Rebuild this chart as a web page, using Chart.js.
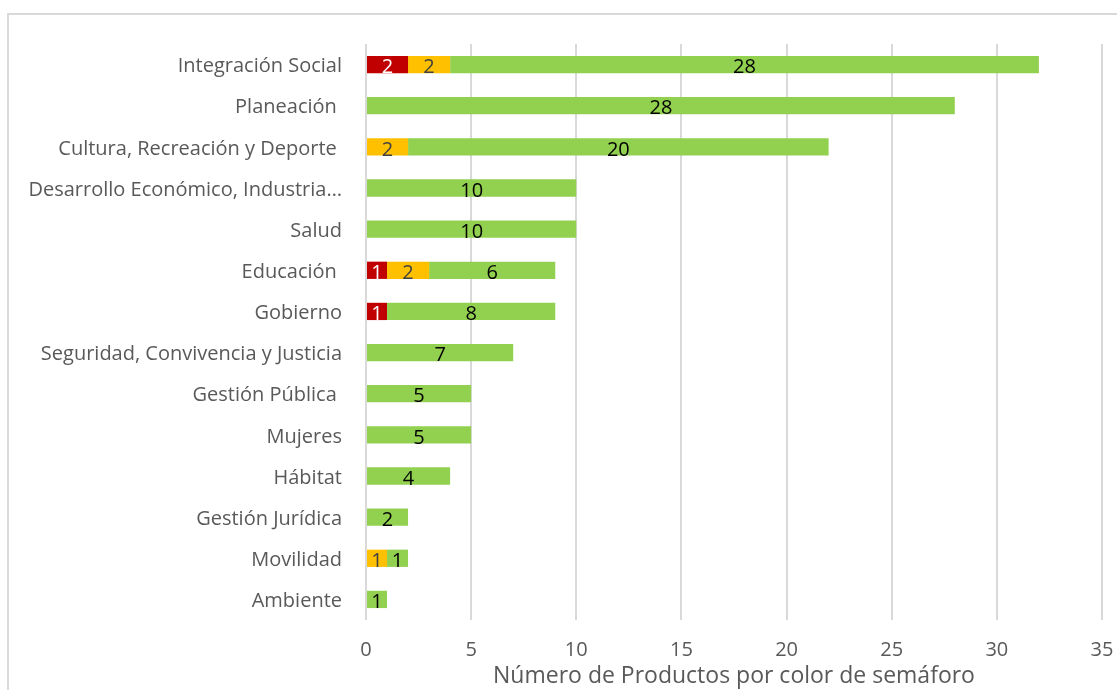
<!DOCTYPE html>
<html>
<head>
<meta charset="utf-8">
<script src="https://cdn.jsdelivr.net/npm/chart.js@4.4.1/dist/chart.umd.min.js"></script>
<style>
    html, body { margin: 0; padding: 0; background: #fff; overflow: hidden; }
    #wrap { position: relative; width: 1117px; height: 690px; }
    #frame {
        position: absolute; left: 7px; top: 13px; right: -10px; bottom: -10px;
        border-left: 2px solid #d9d9d9; border-top: 2px solid #d9d9d9;
    }
    canvas { position: absolute; left: 0; top: 0; }
</style>
</head>
<body>
<div id="wrap">
    <div id="frame"></div>
    <canvas id="chart" width="1117" height="690"></canvas>
</div>
<script>
// Data
const categories = [
    "Integración Social", "Planeación ", "Cultura, Recreación y Deporte ",
    "Desarrollo Económico, Industria…", "Salud", "Educación ", "Gobierno",
    "Seguridad, Convivencia y Justicia", "Gestión Pública ", "Mujeres",
    "Hábitat", "Gestión Jurídica", "Movilidad", "Ambiente"
];
const rojo     = [2, 0, 0, 0, 0, 1, 1, 0, 0, 0, 0, 0, 0, 0];
const amarillo = [2, 0, 2, 0, 0, 2, 0, 0, 0, 0, 0, 0, 1, 0];
const verde    = [28, 28, 20, 10, 10, 6, 8, 7, 5, 5, 4, 2, 1, 1];
const xTicks = [0, 5, 10, 15, 20, 25, 30, 35];

const FONT = "'Open Sans', Lato, sans-serif";

// simple value labels centered in each segment
const segmentLabels = {
    id: 'segmentLabels',
    afterDatasetsDraw(chart) {
        const ctx = chart.ctx;
        ctx.save();
        ctx.font = "20px " + FONT;
        ctx.textAlign = 'center';
        ctx.textBaseline = 'middle';
        chart.data.datasets.forEach((ds, i) => {
            const meta = chart.getDatasetMeta(i);
            meta.data.forEach((bar, j) => {
                const v = ds.data[j];
                if (!v) return;
                const c = bar.getCenterPoint();
                ctx.fillStyle = ds.labelColor;
                ctx.fillText(String(v), c.x, c.y + 3);
            });
        });
        ctx.restore();
    }
};

new Chart(document.getElementById('chart'), {
    type: 'bar',
    data: {
        labels: categories,
        datasets: [
            { label: 'Rojo', data: rojo, backgroundColor: '#c00000', labelColor: '#ffffff' },
            { label: 'Amarillo', data: amarillo, backgroundColor: '#ffc000', labelColor: '#404040' },
            { label: 'Verde', data: verde, backgroundColor: '#92d050', labelColor: '#000000' }
        ]
    },
    options: {
        indexAxis: 'y',
        responsive: false,
        animation: false,
        devicePixelRatio: 1,
        barPercentage: 0.42,
        categoryPercentage: 1,
        layout: { padding: { left: 0, right: 15, top: 44, bottom: 0 } },
        plugins: {
            legend: { display: false },
            tooltip: { enabled: false }
        },
        scales: {
            x: {
                stacked: true,
                min: 0, max: 35,
                afterBuildTicks: (scale) => { scale.ticks = xTicks.map(v => ({ value: v })); },
                grid: { color: '#d9d9d9', lineWidth: 2, drawTicks: false },
                border: { display: false },
                ticks: { color: '#595959', font: { family: FONT, size: 20 }, padding: 18 },
                title: {
                    display: true, text: 'Número de Productos por color de semáforo',
                    color: '#595959', font: { family: FONT, size: 23 }, padding: { top: 0, bottom: 0 }
                },
                afterFit: (scale) => { scale.height = 70; scale.paddingRight = 0; scale.paddingLeft = 0; }
            },
            y: {
                stacked: true,
                grid: { display: false },
                border: { display: false },
                ticks: { color: '#595959', font: { family: FONT, size: 20 }, padding: 16, labelOffset: 2, autoSkip: false },
                afterFit: (scale) => { scale.width = 366; }
            }
        }
    },
    plugins: [segmentLabels]
});
</script>
</body>
</html>
